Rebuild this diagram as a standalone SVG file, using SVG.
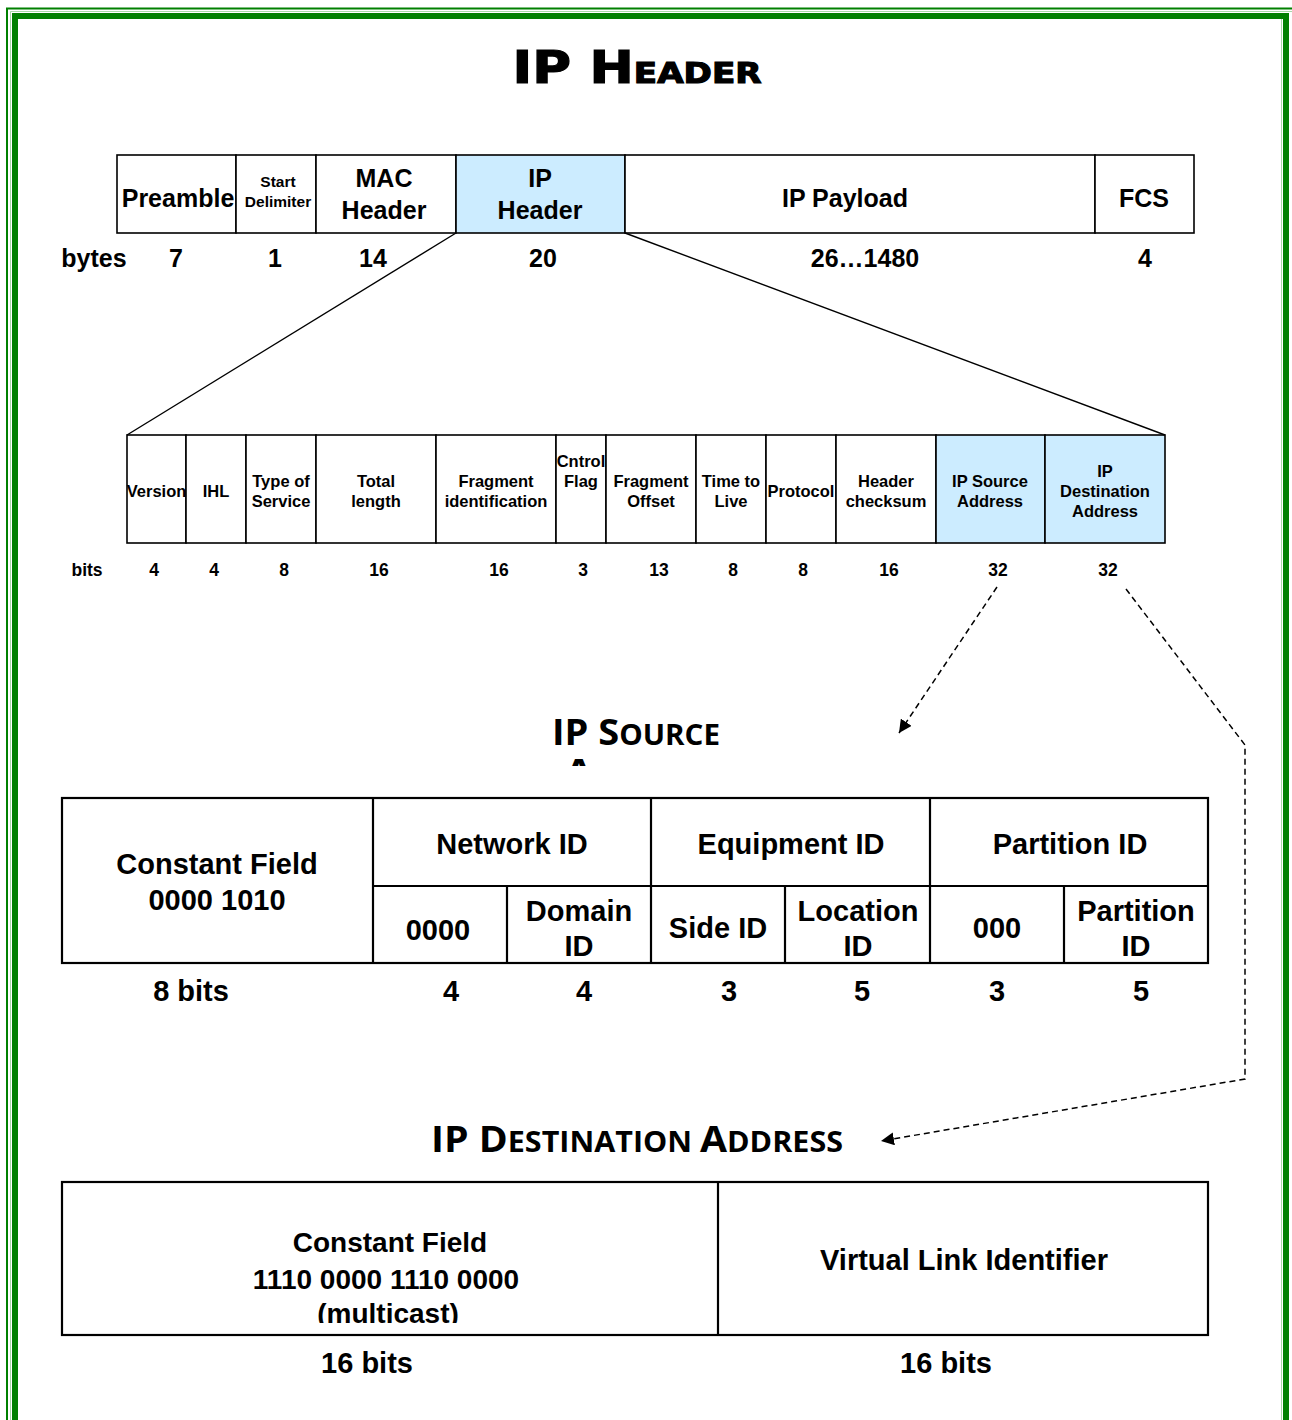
<svg xmlns="http://www.w3.org/2000/svg" width="1292" height="1420" viewBox="0 0 1292 1420">
  <style>
    .cell { fill: #ffffff; stroke: #000000; stroke-width: 1.6; }
    .hl { fill: #ccecff; }
    .tbl { fill: none; stroke: #000000; stroke-width: 2.2; }
    .t { font-family: "Liberation Sans", Arial, sans-serif; font-weight: bold; text-anchor: middle; fill: #000000; }
    .f25 { font-size: 25px; }
    .f15 { font-size: 15.5px; }
    .f16 { font-size: 16.5px; }
    .f17 { font-size: 17.5px; }
    .f29 { font-size: 29px; }
    .f28 { font-size: 28px; }
    .title { font-family: "DejaVu Sans", Verdana, sans-serif; font-weight: bold; fill: #000000; stroke: #000000; stroke-width: 1.2; text-anchor: middle; }
    .sub { font-family: "Open Sans", "Noto Sans", sans-serif; font-weight: bold; fill: #000000; text-anchor: middle; }
    .zoom { fill: none; stroke: #000000; stroke-width: 1.4; }
    .dash { fill: none; stroke: #000000; stroke-width: 1.5; stroke-dasharray: 6 4; }
  </style>
  <defs>
    <marker id="head" viewBox="0 0 12 12" refX="12" refY="6" markerWidth="13" markerHeight="13" markerUnits="userSpaceOnUse" orient="auto">
      <path d="M0,0 L12,6 L0,12 z" fill="#000000"/>
    </marker>
    <clipPath id="clipAddr"><rect x="520" y="700" width="240" height="66"/></clipPath>
    <clipPath id="clipMc"><rect x="200" y="1290" width="380" height="33"/></clipPath>
  </defs>

  <rect width="1292" height="1420" fill="#ffffff"/>

  <!-- page border: thin outer rule, pale hairline, thick inner rule -->
  <g id="border">
    <rect x="7" y="8.5" width="1310" height="1500" fill="none" stroke="#008000" stroke-width="2"/>
    <polyline points="10.5,1420 10.5,11.5 1292,11.5" fill="none" stroke="#a8d8a8" stroke-width="1"/>
    <line x1="1281.5" y1="19" x2="1281.5" y2="1420" stroke="#a8d8a8" stroke-width="1"/>
    <rect x="15" y="16" width="1271" height="1500" fill="none" stroke="#008000" stroke-width="6"/>
  </g>

  <g id="title">
    <text class="title" x="637" y="83" textLength="249" lengthAdjust="spacingAndGlyphs"><tspan font-size="45">IP H</tspan><tspan font-size="29">EADER</tspan></text>
  </g>

  <!-- Ethernet frame -->
  <g id="frame">
    <g id="f-preamble"><rect class="cell" x="117" y="155" width="119" height="78"/><text class="t f25" x="178" y="207">Preamble</text></g>
    <g id="f-sfd"><rect class="cell" x="236" y="155" width="80" height="78"/><text class="t f15" x="278" y="186.5">Start</text><text class="t f15" x="278" y="206.5">Delimiter</text></g>
    <g id="f-mac"><rect class="cell" x="316" y="155" width="140" height="78"/><text class="t f25" x="384" y="187">MAC</text><text class="t f25" x="384" y="219">Header</text></g>
    <g id="f-iphdr"><rect class="cell hl" x="456" y="155" width="169" height="78"/><text class="t f25" x="540" y="187">IP</text><text class="t f25" x="540" y="219">Header</text></g>
    <g id="f-payload"><rect class="cell" x="625" y="155" width="470" height="78"/><text class="t f25" x="845" y="207">IP Payload</text></g>
    <g id="f-fcs"><rect class="cell" x="1095" y="155" width="99" height="78"/><text class="t f25" x="1144" y="207">FCS</text></g>
    <g id="f-bytes">
      <text class="t f25" x="94" y="267">bytes</text>
      <text class="t f25" x="176" y="267">7</text>
      <text class="t f25" x="275" y="267">1</text>
      <text class="t f25" x="373" y="267">14</text>
      <text class="t f25" x="543" y="267">20</text>
      <text class="t f25" x="865" y="267">26…1480</text>
      <text class="t f25" x="1145" y="267">4</text>
    </g>
  </g>

  <!-- IP header fields -->
  <g id="header">
    <g id="h-version"><rect class="cell" x="127" y="435" width="59" height="108"/><text class="t f16" x="156.5" y="497">Version</text></g>
    <g id="h-ihl"><rect class="cell" x="186" y="435" width="60" height="108"/><text class="t f16" x="216" y="497">IHL</text></g>
    <g id="h-tos"><rect class="cell" x="246" y="435" width="70" height="108"/><text class="t f16" x="281" y="487">Type of</text><text class="t f16" x="281" y="507">Service</text></g>
    <g id="h-len"><rect class="cell" x="316" y="435" width="120" height="108"/><text class="t f16" x="376" y="487">Total</text><text class="t f16" x="376" y="507">length</text></g>
    <g id="h-fragid"><rect class="cell" x="436" y="435" width="120" height="108"/><text class="t f16" x="496" y="487">Fragment</text><text class="t f16" x="496" y="507">identification</text></g>
    <g id="h-flag"><rect class="cell" x="556" y="435" width="50" height="108"/><text class="t f16" x="581" y="467">Cntrol</text><text class="t f16" x="581" y="487">Flag</text></g>
    <g id="h-fragoff"><rect class="cell" x="606" y="435" width="90" height="108"/><text class="t f16" x="651" y="487">Fragment</text><text class="t f16" x="651" y="507">Offset</text></g>
    <g id="h-ttl"><rect class="cell" x="696" y="435" width="70" height="108"/><text class="t f16" x="731" y="487">Time to</text><text class="t f16" x="731" y="507">Live</text></g>
    <g id="h-proto"><rect class="cell" x="766" y="435" width="70" height="108"/><text class="t f16" x="801" y="497">Protocol</text></g>
    <g id="h-csum"><rect class="cell" x="836" y="435" width="100" height="108"/><text class="t f16" x="886" y="487">Header</text><text class="t f16" x="886" y="507">checksum</text></g>
    <g id="h-src"><rect class="cell hl" x="936" y="435" width="109" height="108"/><text class="t f16" x="990" y="487">IP Source</text><text class="t f16" x="990" y="507">Address</text></g>
    <g id="h-dst"><rect class="cell hl" x="1045" y="435" width="120" height="108"/><text class="t f16" x="1105" y="477">IP</text><text class="t f16" x="1105" y="497">Destination</text><text class="t f16" x="1105" y="517">Address</text></g>
    <g id="h-bits">
      <text class="t f17" x="87" y="576">bits</text>
      <text class="t f17" x="154" y="576">4</text>
      <text class="t f17" x="214" y="576">4</text>
      <text class="t f17" x="284" y="576">8</text>
      <text class="t f17" x="379" y="576">16</text>
      <text class="t f17" x="499" y="576">16</text>
      <text class="t f17" x="583" y="576">3</text>
      <text class="t f17" x="659" y="576">13</text>
      <text class="t f17" x="733" y="576">8</text>
      <text class="t f17" x="803" y="576">8</text>
      <text class="t f17" x="889" y="576">16</text>
      <text class="t f17" x="998" y="576">32</text>
      <text class="t f17" x="1108" y="576">32</text>
    </g>
  </g>

  <!-- IP source address layout; the second title line is cut off by its box -->
  <g id="src-title">
    <text class="sub" x="636" y="745" textLength="168" lengthAdjust="spacingAndGlyphs"><tspan font-size="36">IP S</tspan><tspan font-size="28">OURCE</tspan></text>
    <text class="sub" x="636" y="785" textLength="143" lengthAdjust="spacingAndGlyphs" clip-path="url(#clipAddr)"><tspan font-size="36">A</tspan><tspan font-size="26">DDRESS</tspan></text>
  </g>
  <g id="src-table">
    <rect class="tbl" x="62" y="798" width="1146" height="165"/>
    <line class="tbl" x1="373" y1="798" x2="373" y2="963"/>
    <line class="tbl" x1="651" y1="798" x2="651" y2="963"/>
    <line class="tbl" x1="930" y1="798" x2="930" y2="963"/>
    <line class="tbl" x1="373" y1="886" x2="1208" y2="886"/>
    <line class="tbl" x1="507" y1="886" x2="507" y2="963"/>
    <line class="tbl" x1="785" y1="886" x2="785" y2="963"/>
    <line class="tbl" x1="1064" y1="886" x2="1064" y2="963"/>
    <text class="t f29" x="217" y="874">Constant Field</text>
    <text class="t f29" x="217" y="910">0000 1010</text>
    <text class="t f29" x="512" y="854">Network ID</text>
    <text class="t f29" x="791" y="854">Equipment ID</text>
    <text class="t f29" x="1070" y="854">Partition ID</text>
    <text class="t f29" x="438" y="940">0000</text>
    <text class="t f29" x="579" y="921">Domain</text>
    <text class="t f29" x="579" y="956">ID</text>
    <text class="t f29" x="718" y="938">Side ID</text>
    <text class="t f29" x="858" y="921">Location</text>
    <text class="t f29" x="858" y="956">ID</text>
    <text class="t f29" x="997" y="938">000</text>
    <text class="t f29" x="1136" y="921">Partition</text>
    <text class="t f29" x="1136" y="956">ID</text>
    <text class="t f29" x="191" y="1001">8 bits</text>
    <text class="t f29" x="451" y="1001">4</text>
    <text class="t f29" x="584" y="1001">4</text>
    <text class="t f29" x="729" y="1001">3</text>
    <text class="t f29" x="862" y="1001">5</text>
    <text class="t f29" x="997" y="1001">3</text>
    <text class="t f29" x="1141" y="1001">5</text>
  </g>

  <!-- IP destination address layout -->
  <g id="dst-title">
    <text class="sub" x="637" y="1152" textLength="412" lengthAdjust="spacingAndGlyphs"><tspan font-size="36">IP D</tspan><tspan font-size="28">ESTINATION </tspan><tspan font-size="36">A</tspan><tspan font-size="28">DDRESS</tspan></text>
  </g>
  <g id="dst-table">
    <rect class="tbl" x="62" y="1182" width="1146" height="153"/>
    <line class="tbl" x1="718" y1="1182" x2="718" y2="1335"/>
    <text class="t f28" x="390" y="1252">Constant Field</text>
    <text class="t f28" x="386" y="1289">1110 0000 1110 0000</text>
    <text class="t f28" x="388" y="1323" clip-path="url(#clipMc)">(multicast)</text>
    <text class="t f29" x="964" y="1270">Virtual Link Identifier</text>
    <text class="t f29" x="367" y="1373">16 bits</text>
    <text class="t f29" x="946" y="1373">16 bits</text>
  </g>

  <!-- connectors -->
  <g id="connectors">
    <path class="zoom" d="M456,233 L127,435"/>
    <path class="zoom" d="M625,233 L1165,435"/>
    <path class="dash" d="M997,587 L899,733" marker-end="url(#head)"/>
    <path class="dash" d="M1126,589 L1245,745 L1245,1079 L881,1141" marker-end="url(#head)"/>
  </g>
</svg>
